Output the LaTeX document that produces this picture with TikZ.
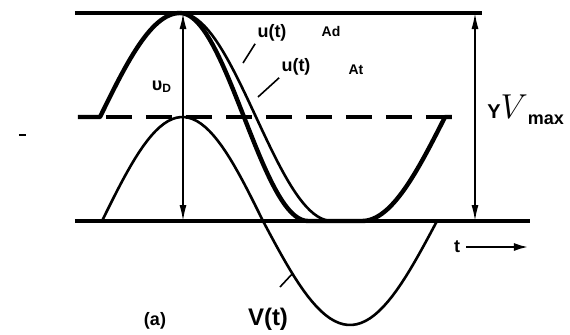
\documentclass[tikz,border=0pt]{standalone}
\usepackage{fontspec}
\setmainfont{Liberation Sans}
\usetikzlibrary{arrows.meta}

\begin{document}
\begin{tikzpicture}[x=0.5pt,y=-0.5pt,every node/.style={font=\bfseries\small,inner sep=1pt}]
  \tikzset{rail/.style={line width=2pt},
    wave/.style={line width=1.3pt},
    dimarrow/.style={{Latex[length=8pt,width=3.5pt]}-{Latex[length=8pt,width=3.5pt]},line width=0.8pt},
    leader/.style={line width=0.8pt}}
  \useasboundingbox (0,0) rectangle (570,334);
  % levels
  \draw[rail] (75,13) -- (482,13);
  \draw[rail] (75,221) -- (530,221);
  \draw[rail,dash pattern=on 13pt off 7pt] (106,117) -- (445,117);
  % V(t)
  \draw[wave] plot[domain=102:263,samples=40] (\x,{221-104*sin((\x-102)/161*180)})
    -- plot[domain=263:437,samples=40] (\x,{221+104*sin((\x-263)/174*180)});
  % u(t) Ad
  \draw[line width=2.2pt,line join=round] (78,117) -- (100,117)
    -- plot[domain=100:180,samples=30] (\x,{117-104*sin((\x-100)/80*90)})
    -- plot[domain=180:308,samples=40] (\x,{13+104*(1-cos((\x-180)/128*180))})
    -- (362,221)
    -- plot[domain=362:445,samples=30] (\x,{221-104*(1-cos((\x-362)/83*90))})
    -- (452,117);
  % u(t) At
  \draw[wave] plot[domain=190:332,samples=40] (\x,{13+104*(1-cos((\x-180)/152*180))}) -- (362,221);
  % dimension arrows
  \coordinate (dTop) at (183,13);
  \coordinate (dBot) at (183,221);
  \coordinate (mTop) at (475,13);
  \coordinate (mBot) at (475,221);
  \draw[dimarrow] (dTop) -- (dBot);
  \draw[dimarrow] (mTop) -- (mBot);
  % labels
  \node (vd) at (162,87) {υ\textsubscript{D}};
  \node (ua) at (272,33) {u(t)};
  \node (ad) at (331,31) {\scriptsize Ad};
  \node (ub) at (296,67) {u(t)};
  \node (at) at (356,70) {\scriptsize At};
  \coordinate (ha) at (243,63);
  \coordinate (hb) at (258,97);
  \draw[leader] (ua.south west) -- (ha);
  \draw[leader] (ub.south west) -- (hb);
  \node[anchor=west] (vm) at (485,110) {{\fontsize{10}{11}\selectfont Y}{\fontsize{17}{18}\selectfont$V$}\raisebox{-0.6ex}{\fontsize{9}{10}\selectfont max}};
  \node (t) at (457,247) {t};
  \coordinate (tEnd) at (528,247);
  \draw[-{Latex[length=7pt,width=4pt]},line width=1pt] (t.east) ++(4,0) -- (tEnd);
  \node (vt) at (268,319) {\large V(t)};
  \coordinate (vLead) at (280,287);
  \coordinate (vHit) at (293,273);
  \draw[leader] (vLead) -- (vHit);
  \node (fa) at (155,321) {(a)};
  % stray mark
  \draw[line width=1pt] (19,135) -- (26,135);
\end{tikzpicture}
\end{document}
